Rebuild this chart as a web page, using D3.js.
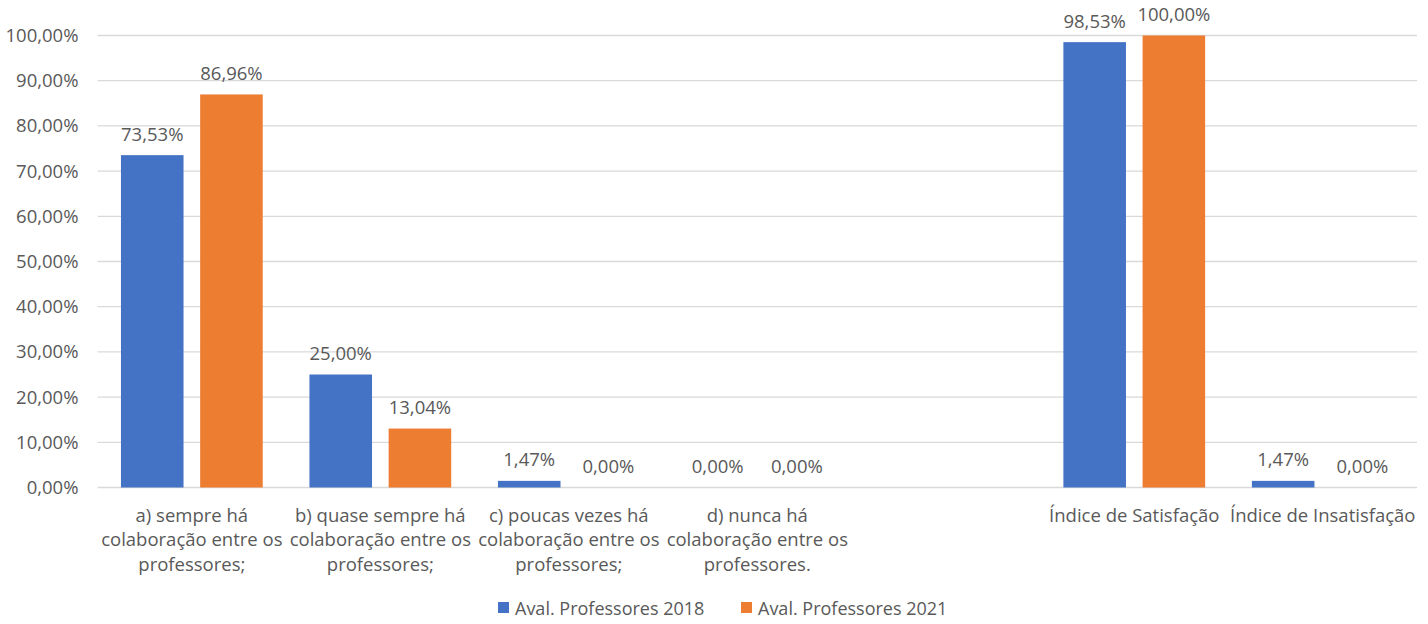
<!DOCTYPE html>
<html>
<head>
<meta charset="utf-8">
<script src="https://cdn.jsdelivr.net/npm/d3@7"></script>
<style>
  html, body { margin: 0; padding: 0; background: #fff; }
  svg { display: block; }
  text { font-family: "Open Sans", "Noto Sans", sans-serif; fill: #595959; }
</style>
</head>
<body>
<svg id="chart" width="1428" height="624"></svg>
<script>
// ---- data ----
const categories = [
  "a) sempre há\ncolaboração entre os\nprofessores;",
  "b) quase sempre há\ncolaboração entre os\nprofessores;",
  "c) poucas vezes há\ncolaboração entre os\nprofessores;",
  "d) nunca há\ncolaboração entre os\nprofessores.",
  "",
  "Índice de Satisfação",
  "Índice de Insatisfação"
];
const seriesNames = ["Aval. Professores 2018", "Aval. Professores 2021"];
const values2018 = [73.53, 25.00, 1.47, 0.00, null, 98.53, 1.47];
const values2021 = [86.96, 13.04, 0.00, 0.00, null, 100.00, 0.00];
const yTicks = [0, 10, 20, 30, 40, 50, 60, 70, 80, 90, 100];
const colors = ["#4472C4", "#ED7D31"];

// ---- layout ----
const svg = d3.select("#chart");
const fmt = v => d3.format(".2f")(v).replace(".", ",") + "%";
const FS = 18.5;

const x = d3.scaleBand().domain(d3.range(categories.length)).range([97.6, 1417]).paddingInner(0).paddingOuter(0);
const xs = d3.scaleBand().domain([0, 1]).range([0, x.bandwidth()]).paddingInner(0.21).paddingOuter(0.295);
const y = d3.scaleLinear().domain([0, 100]).range([487.5, 35.5]);

// gridlines
svg.append("g").selectAll("line").data(yTicks).join("line")
  .attr("x1", 97.6).attr("x2", 1417)
  .attr("y1", d => y(d)).attr("y2", d => y(d))
  .attr("stroke", "#D9D9D9").attr("stroke-width", 1.3);

// y axis labels
const yAxis = d3.axisLeft(y).tickValues(yTicks).tickFormat(d => fmt(d)).tickSize(0).tickPadding(0);
const ya = svg.append("g").attr("transform", "translate(78.5,0)").call(yAxis);
ya.select(".domain").remove();
ya.selectAll("text").attr("font-size", FS).attr("font-family", null).style("fill", "#595959");

// bars
const series = [values2018, values2021];
series.forEach((vals, si) => {
  const g = svg.append("g");
  const data = vals.map((v, i) => ({i, v})).filter(d => d.v !== null);
  g.selectAll("rect").data(data).join("rect")
    .attr("x", d => x(d.i) + xs(si))
    .attr("width", xs.bandwidth())
    .attr("y", d => y(d.v))
    .attr("height", d => y(0) - y(d.v))
    .attr("fill", colors[si]);
  g.selectAll("text").data(data).join("text")
    .attr("x", d => x(d.i) + xs(si) + xs.bandwidth() / 2)
    .attr("y", d => y(d.v) - 14.5)
    .attr("text-anchor", "middle")
    .attr("font-size", FS)
    .text(d => fmt(d.v));
});

// category labels
const xl = svg.append("g");
categories.forEach((c, i) => {
  if (!c) return;
  const t = xl.append("text")
    .attr("text-anchor", "middle")
    .attr("font-size", FS)
    .attr("x", x(i) + x.bandwidth() / 2);
  c.split("\n").forEach((line, li) => {
    t.append("tspan").attr("x", x(i) + x.bandwidth() / 2).attr("y", 521.5 + li * 24.5).text(line);
  });
});

// legend
const legendX = [498, 741];
const lg = svg.append("g");
seriesNames.forEach((n, i) => {
  lg.append("rect").attr("x", legendX[i]).attr("y", 602).attr("width", 11).attr("height", 11).attr("fill", colors[i]);
  lg.append("text").attr("x", legendX[i] + 17).attr("y", 614.5).attr("font-size", 18).text(n);
});
</script>
</body>
</html>
